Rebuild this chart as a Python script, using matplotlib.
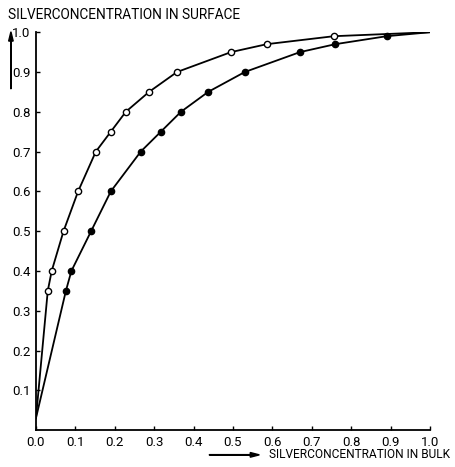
"""
Silver concentration in surface vs. bulk (scanned figure recreation).
"""

import matplotlib
matplotlib.use("Agg")
import matplotlib.pyplot as plt
from matplotlib.patches import FancyArrow

plt.rcParams['font.family'] = ['Roboto', 'Liberation Sans', 'DejaVu Sans']

# --- DATA ---
# open circles (upper curve)
open_x = [0.03, 0.04, 0.07, 0.107, 0.152, 0.19, 0.228, 0.287, 0.358, 0.495, 0.586, 0.756]
open_y = [0.35, 0.40, 0.50, 0.60, 0.70, 0.75, 0.80, 0.85, 0.90, 0.95, 0.97, 0.99]
# filled circles (lower curve)
fill_x = [0.076, 0.09, 0.14, 0.19, 0.266, 0.317, 0.368, 0.437, 0.53, 0.67, 0.76, 0.89]
fill_y = [0.35, 0.40, 0.50, 0.60, 0.70, 0.75, 0.80, 0.85, 0.90, 0.95, 0.97, 0.99]
# curve ends (no marker)
start_pt = (0.0, 0.03)
end_pt = (1.0, 1.0)

ticks = [0.0, 0.1, 0.2, 0.3, 0.4, 0.5, 0.6, 0.7, 0.8, 0.9, 1.0]
tick_labels = ["0.0", "0.1", "0.2", "0.3", "0.4", "0.5", "0.6", "0.7", "0.8", "0.9", "1.0"]
# -----------------------------------

fig = plt.figure(figsize=(4.55, 4.67), dpi=100)
ax = fig.add_axes([0.079, 0.079, 0.866, 0.852])

for xs, ys in ((open_x, open_y), (fill_x, fill_y)):
    ax.plot([start_pt[0]] + xs + [end_pt[0]], [start_pt[1]] + ys + [end_pt[1]],
            color='black', lw=1.3, solid_joinstyle='round')

ax.plot(open_x, open_y, 'o', ms=4.5, mfc='white', mec='black', mew=1.0, zorder=5)
ax.plot(fill_x, fill_y, 'o', ms=4.5, mfc='black', mec='black', zorder=5)

ax.set_xlim(0, 1.0)
ax.set_ylim(0, 1.0)
ax.set_xticks(ticks)
ax.set_yticks(ticks[1:])
ax.set_xticklabels(tick_labels, fontsize=9.5)
ax.set_yticklabels(tick_labels[1:], fontsize=9.5)
ax.tick_params(direction='in', length=3, width=1, pad=4)
for s in ('top', 'right'):
    ax.spines[s].set_visible(False)
for s in ('left', 'bottom'):
    ax.spines[s].set_linewidth(1.3)

# axis titles with arrows
fig.text(0.018, 0.968, "SILVERCONCENTRATION IN SURFACE", fontsize=9.8, ha='left', va='center')
fig.text(0.988, 0.026, "SILVERCONCENTRATION IN BULK", fontsize=8.6, ha='right', va='center')
fig.patches.append(FancyArrow(
    0.024, 0.81, 0.0, 0.122, width=0.001, head_width=0.01, head_length=0.02,
    color='black', transform=fig.transFigure, length_includes_head=True))
fig.patches.append(FancyArrow(
    0.46, 0.026, 0.11, 0.0, width=0.001, head_width=0.01, head_length=0.02,
    color='black', transform=fig.transFigure, length_includes_head=True))

plt.savefig("out.png", dpi=100)
